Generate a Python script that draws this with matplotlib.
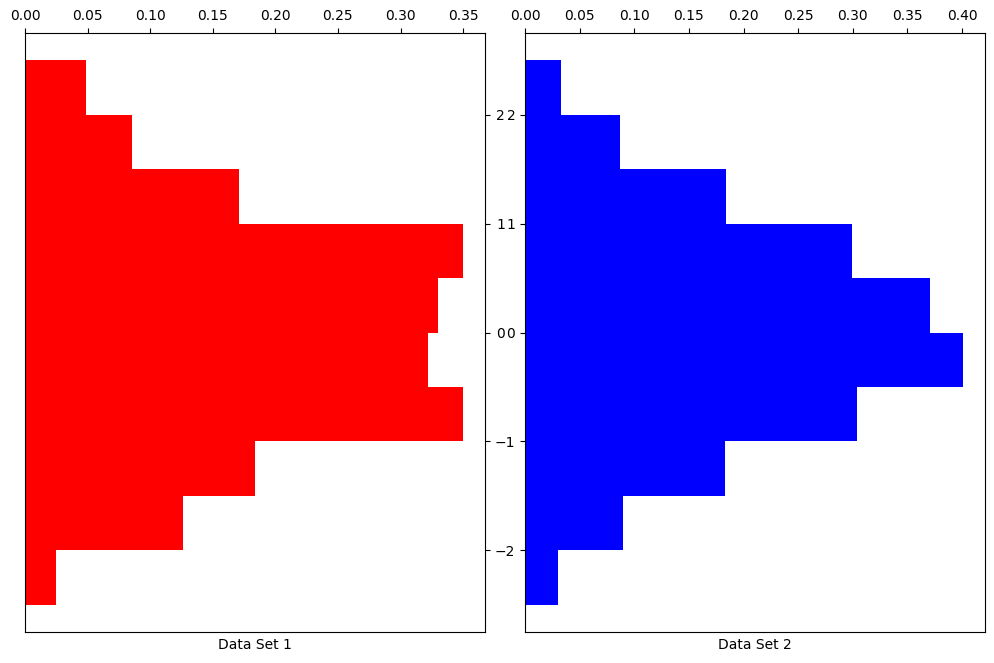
import matplotlib.pyplot as plt

# bin edges (lower edge of each bin) and densities
bin_lower = [-2.5, -2.0, -1.5, -1.0, -0.5, 0.0, 0.5, 1.0, 1.5, 2.0]
set1 = [0.025, 0.126, 0.184, 0.350, 0.322, 0.330, 0.350, 0.171, 0.0855, 0.049]
set2 = [0.030, 0.090, 0.183, 0.304, 0.401, 0.371, 0.299, 0.184, 0.087, 0.033]
yticks = [-2, -1, 0, 1, 2]

fig = plt.figure(figsize=(9.95, 6.63), dpi=100)
ax1 = fig.add_axes([25/995, 1 - 632/663, 460/995, 599/663])
ax2 = fig.add_axes([525/995, 1 - 632/663, 460/995, 599/663])

ax1.barh(bin_lower, set1, height=0.5, align='edge', color='red')
ax2.barh(bin_lower, set2, height=0.5, align='edge', color='blue')

for ax, vals, label in [(ax1, set1, 'Data Set 1'), (ax2, set2, 'Data Set 2')]:
    ax.set_ylim(-2.75, 2.75)
    ax.set_xlim(0, max(vals) * 1.05)
    ax.xaxis.tick_top()
    ax.set_xlabel(label)
    ax.set_yticks(yticks)

# left panel's labels sit on its right side, next to the right panel's labels
ax1.yaxis.tick_right()
ax1.set_yticklabels(['', '', '0', '1', '2'])
ax1.tick_params(axis='y', pad=4.4)

fig.savefig('out.png', dpi=100)
